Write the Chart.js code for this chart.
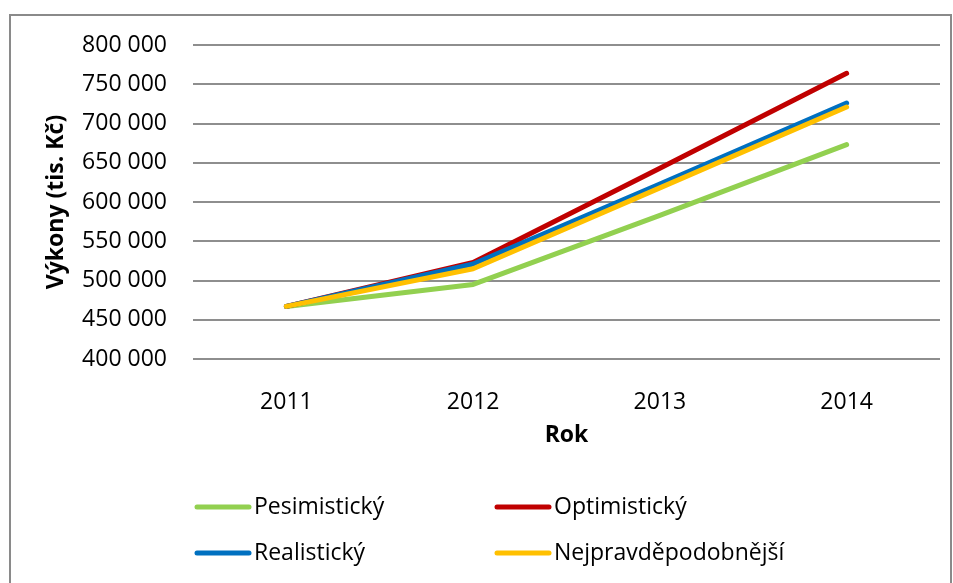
<!DOCTYPE html>
<html>
<head>
<meta charset="utf-8">
<script src="https://cdn.jsdelivr.net/npm/chart.js@4/dist/chart.umd.min.js"></script>
<style>
  body { margin: 0; background: #fff; }
  .frame {
    position: absolute; left: 9px; top: 14px;
    width: 939px; height: 600px;
    border: 2px solid #8a8a8a;
  }
  #vykony { position: absolute; left: 0; top: 0; }
</style>
</head>
<body>
<div class="frame"></div>
<canvas id="vykony" width="953" height="583"></canvas>
<script>
const roky = ['2011', '2012', '2013', '2014'];
const pesimisticky = [467000, 495000, 583000, 673000];
const optimisticky = [467000, 523000, 643000, 764000];
const realisticky = [467000, 521000, 623000, 726000];
const nejpravdepodobnejsi = [467000, 515000, 618000, 721000];

const FONT = "'Open Sans', sans-serif";

function mezery(v) {
  return String(v).replace(/\B(?=(\d{3})+(?!\d))/g, ' ');
}

// legenda ve dvou sloupcich pod grafem
const legendaPlugin = {
  id: 'legenda',
  afterDraw(chart) {
    const c = chart.ctx;
    const sloupce = [197, 497];
    const radky = [507, 553];
    c.save();
    c.font = '23px ' + FONT;
    c.textBaseline = 'middle';
    c.fillStyle = '#000';
    chart.data.datasets.forEach((ds, i) => {
      const x = sloupce[i % 2];
      const y = radky[Math.floor(i / 2)];
      c.strokeStyle = ds.borderColor;
      c.lineWidth = 5;
      c.lineCap = 'round';
      c.beginPath();
      c.moveTo(x, y);
      c.lineTo(x + 52, y);
      c.stroke();
      c.fillText(ds.label, x + 57, y);
    });
    c.restore();
  }
};

const spolecne = {
  borderWidth: 5,
  pointRadius: 0,
  tension: 0,
  borderCapStyle: 'round',
  borderJoinStyle: 'round'
};

new Chart(document.getElementById('vykony').getContext('2d'), {
  type: 'line',
  data: {
    labels: roky,
    datasets: [
      { label: 'Pesimistický', data: pesimisticky, borderColor: '#92D050', order: 4, ...spolecne },
      { label: 'Optimistický', data: optimisticky, borderColor: '#C00000', order: 3, ...spolecne },
      { label: 'Realistický', data: realisticky, borderColor: '#0070C0', order: 2, ...spolecne },
      { label: 'Nejpravděpodobnější', data: nejpravdepodobnejsi, borderColor: '#FFC000', order: 1, ...spolecne }
    ]
  },
  options: {
    responsive: false,
    animation: false,
    layout: { padding: { left: 0, top: 45, right: 13, bottom: 124 } },
    plugins: {
      legend: { display: false },
      tooltip: { enabled: false }
    },
    scales: {
      x: {
        offset: true,
        grid: { display: false },
        border: { display: false },
        ticks: { color: '#000', font: { family: FONT, size: 23 }, padding: 22 },
        title: {
          display: true, text: 'Rok', color: '#000',
          font: { family: FONT, size: 23, weight: 'bold' },
          padding: { top: 0, bottom: 10 }
        },
        afterFit: (axis) => { axis.height = 100; }
      },
      y: {
        min: 400000,
        max: 800000,
        grid: { color: '#8e8e8e', lineWidth: 2, drawTicks: false },
        border: { display: false },
        ticks: {
          stepSize: 50000,
          color: '#000',
          font: { family: FONT, size: 23 },
          padding: 26,
          callback: (v) => mezery(v)
        },
        title: {
          display: true, text: 'Výkony (tis. Kč)', color: '#000',
          font: { family: FONT, size: 23, weight: 'bold' },
          padding: { top: 43, bottom: 0 }
        },
        afterFit: (axis) => { axis.width = 193; }
      }
    }
  },
  plugins: [legendaPlugin]
});
</script>
</body>
</html>
